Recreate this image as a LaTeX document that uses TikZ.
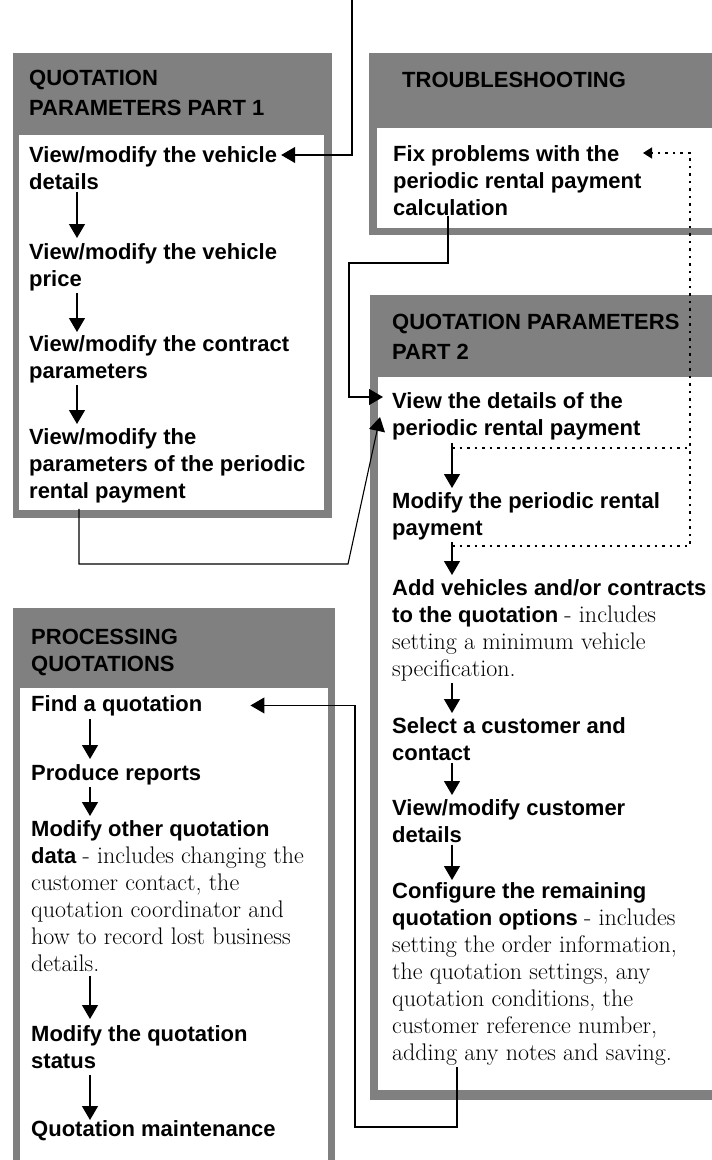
\documentclass[tikz,border=0pt]{standalone}
\usepackage{fontspec}
\setsansfont{Liberation Sans}
\usepackage{tikz}
\usetikzlibrary{arrows.meta}

\newcommand{\notetext}[1]{{\rmfamily\mdseries\fontsize{24}{27}\selectfont #1}}

\begin{document}
\begin{tikzpicture}[x=1pt,y=-1pt,
    txt/.style={anchor=north west,inner sep=0pt,align=left,font=\sffamily\bfseries\fontsize{22}{27}\selectfont},
    flow/.style={line width=1.3pt,-{Triangle[length=14pt,width=16pt]}},
    link/.style={line width=1.1pt,-{Triangle[length=14pt,width=16pt]}},
    dots/.style={line width=1.4pt,dash pattern=on 2.5pt off 5pt}]
                    \useasboundingbox (0,0) rectangle (712,1160);
                    \clip (0,0) rectangle (712,1160);
                    % panels
                    \fill[gray] (13,53) rectangle (332,518);
                    \fill[white] (19,135) rectangle (324,510);
                    \fill[gray] (369,53) rectangle (730,235);
                    \fill[white] (377,128) rectangle (730,228);
                    \fill[gray] (370,295) rectangle (730,1100);
                    \fill[white] (378,377) rectangle (730,1090);
                    \fill[gray] (13,608) rectangle (335,1180);
                    \fill[white] (20,688) rectangle (328,1180);

                    \node[txt] (qp1) at (29,70) {QUOTATION\\[3pt]PARAMETERS PART 1};
                    \node[txt] (v1) at (29,146) {View/modify the vehicle\\details};
                    \node[txt] (v2) at (29,243) {View/modify the vehicle\\price};
                    \node[txt] (v3) at (29,335) {View/modify the contract\\parameters};
                    \node[txt] (v4) at (29,428) {View/modify the\\parameters of the periodic\\rental payment};

                    \node[txt] (trb) at (402,72) {TROUBLESHOOTING};
                    \node[txt] (fix) at (393,145) {Fix problems with the\\periodic rental payment\\calculation};

                    \node[txt] (qp2) at (392,314) {QUOTATION PARAMETERS\\[3pt]PART 2};
                    \node[txt] (d1) at (392,392) {View the details of the\\periodic rental payment};
                    \node[txt] (d2) at (392,492) {Modify the periodic rental\\payment};
                    \node[txt] (d3) at (392,579) {Add vehicles and/or contracts\\to the quotation \notetext{- includes}\\\notetext{setting a minimum vehicle}\\\notetext{specification.}};
                    \node[txt] (d4) at (392,717) {Select a customer and\\contact};
                    \node[txt] (d5) at (392,799) {View/modify customer\\details};
                    \node[txt] (d6) at (392,882) {Configure the remaining\\quotation options \notetext{- includes}\\\notetext{setting the order information,}\\\notetext{the quotation settings, any}\\\notetext{quotation conditions, the}\\\notetext{customer reference number,}\\\notetext{adding any notes and saving.}};

                    \node[txt] (proc) at (31,629) {PROCESSING\\QUOTATIONS};
                    \node[txt] (p1) at (31,695) {Find a quotation};
                    \node[txt] (p2) at (31,764) {Produce reports};
                    \node[txt] (p3) at (31,820) {Modify other quotation\\data \notetext{- includes changing the}\\\notetext{customer contact, the}\\\notetext{quotation coordinator and}\\\notetext{how to record lost business}\\\notetext{details.}};
                    \node[txt] (p4) at (31,1025) {Modify the quotation\\status};
                    \node[txt] (p5) at (31,1120) {Quotation maintenance};

                    % steps
                    \draw[flow] ([xshift=48pt,yshift=-2pt]v1.south west) -- ([xshift=48pt,yshift=5pt]v2.north west);
                    \draw[flow] ([xshift=48pt,yshift=-2pt]v2.south west) -- ([xshift=48pt,yshift=3pt]v3.north west);
                    \draw[flow] ([xshift=48pt,yshift=-2pt]v3.south west) -- ([xshift=48pt,yshift=4pt]v4.north west);
                    \draw[flow] ([xshift=60pt,yshift=-3pt]d1.south west) -- ([xshift=60pt,yshift=4pt]d2.north west);
                    \draw[flow] ([xshift=60pt,yshift=-2pt]d2.south west) -- ([xshift=60pt,yshift=4pt]d3.north west);
                    \draw[flow] ([xshift=60pt,yshift=-2pt]d3.south west) -- ([xshift=60pt,yshift=4pt]d4.north west);
                    \draw[flow] ([xshift=60pt,yshift=-2pt]d4.south west) -- ([xshift=60pt,yshift=4pt]d5.north west);
                    \draw[flow] ([xshift=60pt,yshift=-2pt]d5.south west) -- ([xshift=60pt,yshift=2pt]d6.north west);
                    \draw[flow] ([xshift=59pt,yshift=-3pt]p1.south west) -- ([xshift=59pt,yshift=5pt]p2.north west);
                    \draw[flow] ([xshift=59pt,yshift=-2pt]p2.south west) -- ([xshift=59pt,yshift=4pt]p3.north west);
                    \draw[flow] ([xshift=59pt,yshift=-4pt]p3.south west) -- ([xshift=59pt,yshift=6pt]p4.north west);
                    \draw[flow] ([xshift=59pt,yshift=-6pt]p4.south west) -- ([xshift=59pt,yshift=0pt]p5.north west);

                    % links between panels
                    \coordinate (entry) at (352,0);
                    \draw[link] (entry) |- ([xshift=4pt,yshift=-9pt]v1.north east);
                    \draw[link] ([xshift=55pt]fix.south west) |- (349,263) |- ([xshift=-9pt,yshift=-5pt]d1.north west);
                    \draw[link] ([xshift=50pt,yshift=-6pt]v4.south west) |- (348,564) -- ([xshift=-12pt,yshift=-25pt]d1.north west);
                    \draw[link] ([xshift=65pt,yshift=-2pt]d6.south west) |- (355,1127) |- ([xshift=48pt]p1.east);

                    % feedback
                    \draw[dots,-{Triangle[length=9pt,width=11pt]}] ([xshift=60pt,yshift=-8pt]d1.south west) -| ([xshift=297pt,yshift=-8pt]fix.north west) -- ([xshift=250pt,yshift=-8pt]fix.north west);
                    \draw[dots] ([xshift=60pt,yshift=-6pt]d2.south west) -| ([xshift=298pt,yshift=-8pt]d1.south west);
                \end{tikzpicture}
\end{document}
